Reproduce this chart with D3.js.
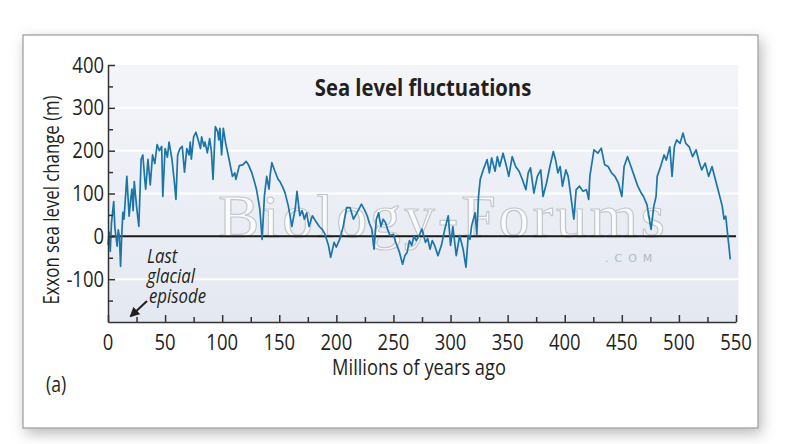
<!DOCTYPE html>
<html>
<head>
<meta charset="utf-8">
<script src="https://cdn.jsdelivr.net/npm/d3@7"></script>
<style>
  body { margin: 0; background: #fff; }
  svg { display: block; }
  text { font-family: "Open Sans", "Liberation Sans", sans-serif; fill: #231f20; }
</style>
</head>
<body>
<div id="body"></div>
<script>
// millions of years ago
var ages = [0, 1, 2, 3, 5, 6, 8, 9, 10, 11, 12, 13, 14, 16.5, 18.5, 20, 21, 22, 23, 25, 27, 29, 30.5, 32, 33, 35, 37, 39, 41, 43,
    45, 47, 48, 50, 52, 53.5, 56, 58, 59.5, 61, 63, 65, 67, 69, 71, 72, 73, 75, 77, 79, 81, 82, 84, 85, 87, 89, 90.5, 92, 94, 96,
    97, 98, 99.5, 101, 103, 106, 109, 111, 112, 115, 118, 121, 123, 126, 128, 130, 133, 135, 137, 139, 141, 142, 143.5, 146, 149, 150.6, 153, 155, 158, 161,
    164, 165.5, 168, 170, 172, 174, 176, 179, 182, 185, 188, 190, 193, 195, 198, 200, 203, 206, 209, 212, 215, 218, 222, 225, 227, 229, 231, 233, 235, 237,
    239, 241, 243, 245, 247, 250, 252, 255, 258, 260, 262, 264, 266, 268, 270, 273, 275, 278, 280, 282, 284, 286, 289, 292, 295, 298, 300, 302, 305, 308,
    311, 313.5, 315.5, 317, 318.5, 320, 321.5, 323, 324.5, 326, 328.6, 332, 334, 336, 339, 341, 343, 346, 349, 351, 354, 357, 360, 363, 366, 368, 370, 373, 376, 379,
    381, 384, 387, 389, 390, 392, 394, 396, 398, 401, 403, 405, 408, 410, 413, 416, 419, 421, 422, 425.6, 429, 432, 435, 438, 441, 444, 447, 450, 452, 455,
    458, 461, 464, 467, 469, 472, 475.6, 478, 480, 481, 484, 487, 489, 492, 494, 496, 498, 501, 503.6, 506, 509, 512, 515, 518, 520, 523, 526, 529, 532, 535,
    538, 539.5, 541, 545];
// Exxon sea level change (m)
var seaLevel = [-20, 10, -35, 30, 81, 20, -23, 15, 0, -70, 0, 56, 40, 140, 47, 90, 110, 60, 128, 70, 23, 180, 190, 140, 110, 180, 120, 190, 170, 214,
    200, 210, 93, 205, 185, 220, 180, 130, 86, 190, 205, 210, 150, 205, 190, 220, 180, 232, 243, 225, 205, 232, 210, 220, 195, 228, 200, 133, 256, 245,
    225, 252, 190, 252, 218, 180, 140, 148, 133, 165, 167, 175, 167, 148, 130, 110, 63, -7, 95, 140, 110, 143, 172, 153, 133, 128, 115, 102, 70, 23,
    65, 105, 48, 60, 40, 55, 23, 48, 35, 23, 15, 5, -20, -49, -14, -25, -6, 23, 67, 67, 40, 55, 75, 60, 48, 30, 17, -30, 40, 55,
    23, 40, 32, 15, 2, 5, -14, -35, -65, -45, -37, -10, -21, 0, -10, 5, 17, -14, -5, -30, -10, -21, -45, -21, 17, 48, -21, 23, -45, 2,
    -30, -72, 2, -7, 25, 40, 55, 5, 93, 133, 155, 179, 148, 183, 152, 186, 163, 194, 163, 140, 186, 163, 152, 132, 109, 148, 160, 101, 140, 155,
    93, 124, 163, 186, 198, 178, 148, 163, 117, 155, 140, 101, 40, 109, 117, 105, 109, 86, 140, 202, 194, 206, 167, 163, 148, 140, 124, 93, 163, 186,
    163, 140, 117, 101, 93, 74, 16, 70, 93, 140, 163, 190, 178, 209, 140, 209, 225, 217, 241, 217, 209, 186, 202, 171, 155, 171, 140, 163, 132, 101,
    70, 40, 47, -54];

var xTicks = [0, 50, 100, 150, 200, 250, 300, 350, 400, 450, 500, 550];
var yTicks = [-100, 0, 100, 200, 300, 400];
var gridValues = [-100, 100, 200, 300];

var width = 800, height = 444;

var svg = d3.select("#body").append("svg")
    .attr("width", width)
    .attr("height", height);

// text helper: narrow the glyphs horizontally (condensed look)
function label(px, py, str, size, anchor, sq) {
    var t = svg.append("text")
        .attr("transform", "translate(" + px + "," + py + ") scale(" + (sq || 0.84) + ",1)")
        .attr("text-anchor", anchor || "start")
        .style("font-size", size + "px")
        .text(str);
    return t;
}

var defs = svg.append("defs");
defs.append("filter").attr("id", "shadow")
    .attr("x", "-10%").attr("y", "-10%").attr("width", "120%").attr("height", "125%")
    .append("feDropShadow")
    .attr("dx", 3).attr("dy", 5).attr("stdDeviation", 7)
    .attr("flood-color", "#000").attr("flood-opacity", 0.28);

var grad = defs.append("linearGradient").attr("id", "bg")
    .attr("x1", 0).attr("y1", 0).attr("x2", 0).attr("y2", 1);
grad.append("stop").attr("offset", "0%").attr("stop-color", "#f3f5f9");
grad.append("stop").attr("offset", "100%").attr("stop-color", "#e4e8f1");

// panel
svg.append("rect")
    .attr("x", 23).attr("y", 35).attr("width", 735).attr("height", 393)
    .attr("fill", "#fff").attr("stroke", "#9a9a9a").attr("stroke-width", 1.2)
    .attr("filter", "url(#shadow)");

var x = d3.scaleLinear().domain([0, 550]).range([108, 736]);
var y = d3.scaleLinear().domain([-200, 400]).range([322, 65]);

// plot background
svg.append("rect")
    .attr("x", x(0)).attr("y", y(400))
    .attr("width", x(552) - x(0)).attr("height", y(-200) - y(400))
    .attr("fill", "url(#bg)");

svg.selectAll(".grid")
    .data(gridValues)
    .enter().append("line")
    .attr("class", "grid")
    .attr("x1", x(0)).attr("x2", x(552))
    .attr("y1", function (d) { return y(d); })
    .attr("y2", function (d) { return y(d); })
    .attr("stroke", "#fff").attr("stroke-width", 2);

// watermark
svg.append("text")
    .attr("x", 218).attr("y", 237)
    .attr("textLength", 447)
    .style("font-family", "'Liberation Serif', 'DejaVu Serif', serif")
    .style("font-size", "62px")
    .style("fill", "#fff").style("fill-opacity", 0.75)
    .style("stroke", "#c4c7cc").style("stroke-width", 1.2)
    .text("Biology-Forums");
svg.append("text")
    .attr("x", 605).attr("y", 262)
    .style("font-family", "'DejaVu Sans', sans-serif")
    .style("font-size", "11px").style("letter-spacing", "6px")
    .style("fill", "#b5b8bd")
    .text(".COM");

// zero line
svg.append("line")
    .attr("x1", x(0)).attr("x2", x(550))
    .attr("y1", y(0)).attr("y2", y(0))
    .attr("stroke", "#1a1a1a").attr("stroke-width", 2);

var line = d3.line()
    .x(function (d) { return x(d[0]); })
    .y(function (d) { return y(d[1]); });

svg.append("path")
    .datum(d3.zip(ages, seaLevel))
    .attr("d", line)
    .attr("fill", "none")
    .attr("stroke", "#1b75a8")
    .attr("stroke-width", 1.7)
    .attr("stroke-linejoin", "round");

// axes
var xAxis = d3.axisBottom(x).tickValues(d3.range(0, 551, 25)).tickSizeInner(-5).tickSizeOuter(0).tickFormat("");
var gx = svg.append("g").attr("transform", "translate(0," + y(-200) + ")").call(xAxis);
gx.selectAll(".tick line").attr("y2", function (d) { return d % 50 === 0 ? -7 : -5; });

var yAxis = d3.axisLeft(y).tickValues(d3.range(-150, 401, 50)).tickSizeInner(-5).tickSizeOuter(0).tickFormat("");
var gy = svg.append("g").attr("transform", "translate(" + x(0) + ",0)").call(yAxis);
gy.selectAll(".tick line").attr("x2", function (d) { return d % 100 === 0 ? 7 : 5; });

svg.selectAll(".domain").attr("stroke", "#333").attr("stroke-width", 1.5);
svg.selectAll(".tick line").attr("stroke", "#333").attr("stroke-width", 1.5);

xTicks.forEach(function (d) { label(x(d), 350, d, 22, "middle"); });
yTicks.forEach(function (d) { label(104, y(d) + 7.5, d, 22, "end"); });

// titles
label(423, 96, "Sea level fluctuations", 23, "middle", 0.88).style("font-weight", "bold");
label(419, 375, "Millions of years ago", 22, "middle", 0.83);
svg.append("text")
    .attr("transform", "translate(59,200) rotate(-90) scale(0.8,1)")
    .attr("text-anchor", "middle")
    .style("font-size", "21px")
    .text("Exxon sea level change (m)");
label(46, 392, "(a)", 21, "start");

// annotation
var note = ["Last", "glacial", "episode"];
note.forEach(function (d, i) {
    label(i === 2 ? 149 : 147, 263 + i * 20, d, 20, "start").style("font-style", "italic");
});

defs.append("marker").attr("id", "arrow")
    .attr("viewBox", "0 0 10 10").attr("refX", 8).attr("refY", 5)
    .attr("markerWidth", 5).attr("markerHeight", 5).attr("orient", "auto")
    .append("path").attr("d", "M0,0 L10,5 L0,10 z").attr("fill", "#231f20");

svg.append("line")
    .attr("x1", 147).attr("y1", 301)
    .attr("x2", 131).attr("y2", 316)
    .attr("stroke", "#231f20").attr("stroke-width", 2)
    .attr("marker-end", "url(#arrow)");
</script>
</body>
</html>
